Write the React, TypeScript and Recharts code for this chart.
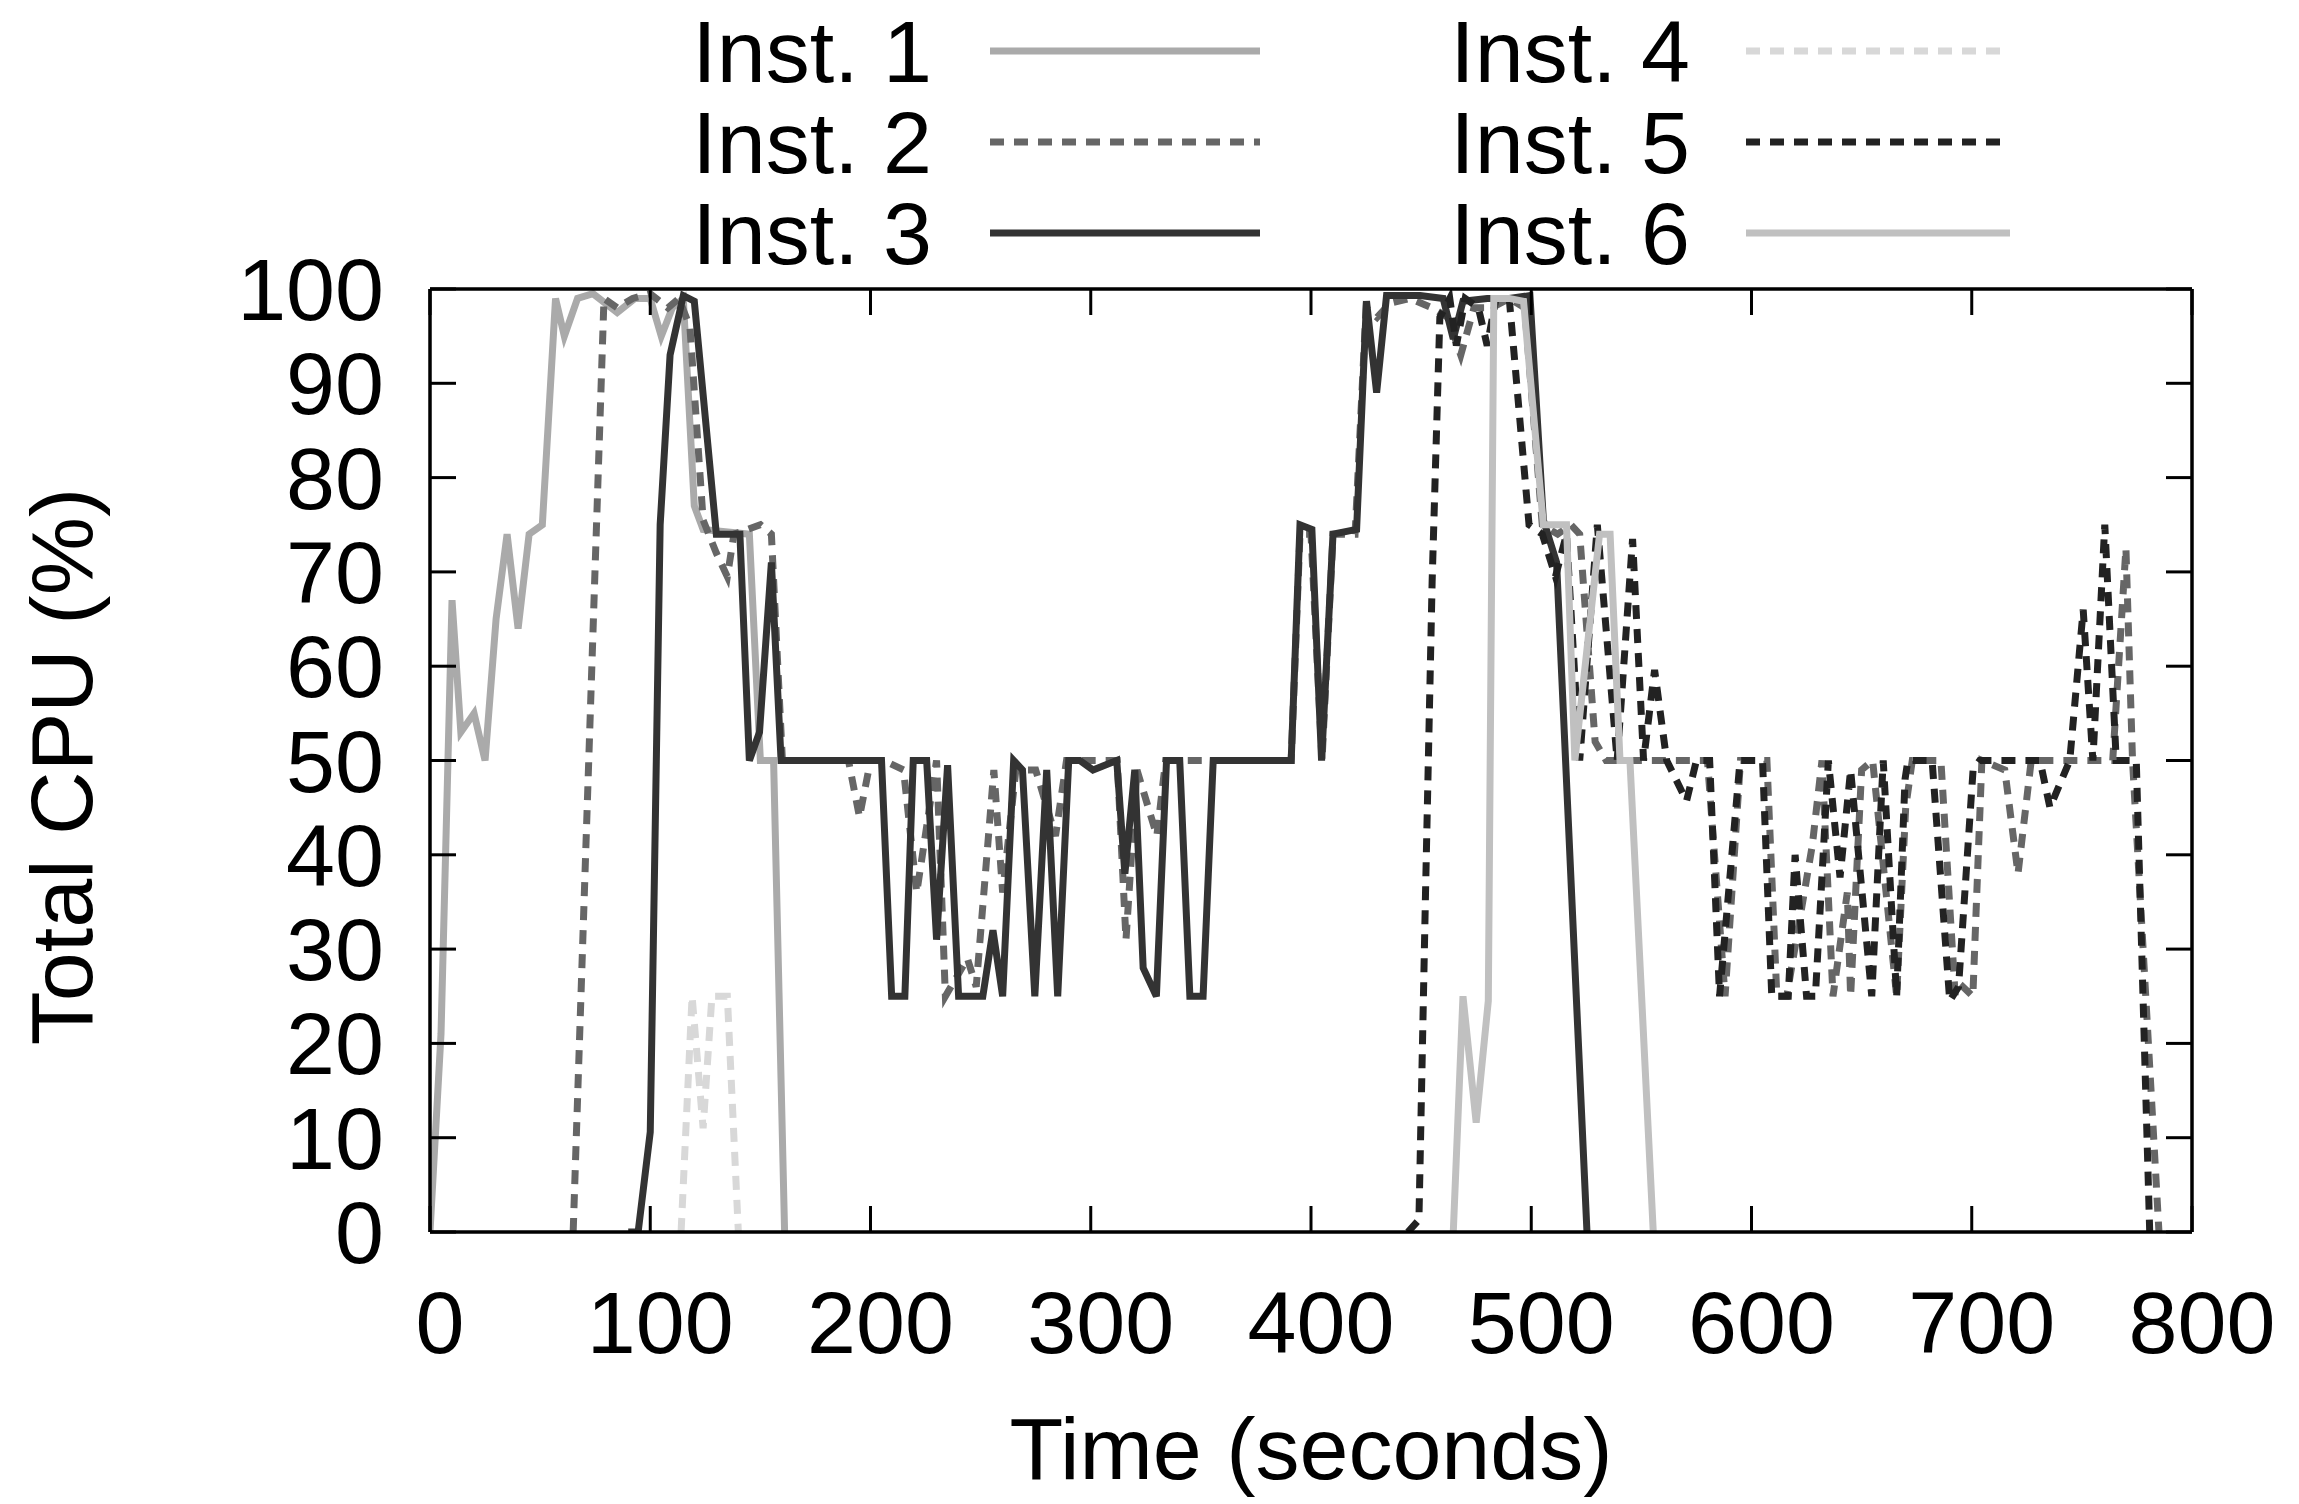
import React from "react";
import { LineChart, Line, XAxis, YAxis, Label } from "recharts";

// CPU traces (time in seconds, total CPU in %)
const inst1Time = [0, 5, 10, 14, 20, 25, 30, 35, 40, 45, 51, 57, 61, 67, 74, 85, 93, 100, 105, 110, 115, 120, 124, 145, 150, 156, 161];
const inst1Cpu = [0, 21, 67, 53, 55, 50, 65, 74, 64, 74, 75, 99, 95, 99, 99.5, 97.5, 99, 99, 95, 98, 99, 77, 74.5, 74, 50, 50, 0];

const inst2Time = [65, 79, 85, 92, 100, 108, 113, 118, 124, 130, 135, 138, 150, 155, 160, 165, 180, 190, 195, 200, 206, 215, 221, 230, 234, 244, 248, 256, 260, 266, 275, 284, 289, 300, 312, 316, 321, 330, 334, 345, 360, 375, 388, 391, 395, 400, 405, 410, 420, 425, 430, 436, 445, 455, 462, 468, 474, 482, 490, 497, 505, 512, 518, 522, 529, 534, 545, 560, 570, 580, 588, 595, 607, 611.5, 616, 627.6, 632, 637, 643.5, 645, 650, 655, 665.9, 670, 673, 686, 692.5, 696, 700.5, 704.6, 715, 721, 727, 748, 764, 770, 773, 785];
const inst2Cpu = [0, 99, 98, 99, 99.5, 98, 99, 96, 75.5, 72, 69.5, 74, 75, 74, 50, 50, 50, 50, 44, 50, 50, 49, 36, 50, 25, 29, 26, 49, 36, 49, 49, 42, 50, 50, 50, 31, 49, 42, 50, 50, 50, 50, 50, 50, 74, 74, 50, 74, 74, 98, 97, 98.5, 99, 98, 97, 93, 98, 98, 99, 98, 75, 74, 75, 74, 52, 50, 50, 50, 50, 50, 25, 50, 50, 25, 25, 41, 50, 25, 36, 25, 49, 50, 25, 45, 50, 50, 25, 26, 25, 50, 49, 38, 50, 50, 50, 72.5, 50, 0];

const inst3Time = [90, 94.5, 100, 104.5, 109, 115, 120, 130, 140.7, 145, 149.6, 155, 159.4, 163, 180, 190, 205, 209.6, 215.6, 219.4, 225.5, 230, 235, 240, 251, 255.6, 260, 265, 269, 274.6, 280, 285, 290, 295, 301, 311.8, 315.5, 320, 323.8, 329.8, 334.4, 340.4, 345, 351, 355.6, 370, 391, 395, 400.4, 404.8, 410, 420.7, 425.2, 429.8, 434.3, 449.5, 460, 464.6, 469, 480, 490, 499.4, 505.5, 511.5, 525.3];
const inst3Cpu = [0, 0, 10.6, 75, 93, 99.3, 98.7, 74, 74, 50, 53, 71, 50, 50, 50, 50, 50, 25, 25, 50, 50, 31, 49.5, 25, 25, 32, 25, 50, 49, 25, 49, 25, 50, 50, 49, 50, 38, 49, 28, 25, 50, 50, 25, 25, 50, 50, 50, 75, 74.5, 50, 74, 74.5, 98.7, 89, 99.3, 99.3, 99, 94.7, 98.7, 99, 99, 99.3, 75.5, 71, 0];

const inst4Time = [114, 119, 124, 128, 135, 140];
const inst4Cpu = [0, 25, 11, 25, 25, 0];

const inst5Time = [444, 449, 452, 455, 458.5, 463, 466, 470, 476, 480, 484, 490, 499, 505, 511, 516, 522, 530, 539, 546, 551, 556, 561.5, 570.5, 575, 581, 585.5, 594.8, 600, 605, 609.2, 616.7, 619.8, 625, 629, 634.9, 640.2, 645, 654.6, 659.8, 665.9, 669.7, 671, 682, 690, 694, 700.6, 703.6, 731, 735.5, 744.5, 750.6, 755, 760.4, 765.6, 774.7, 780.8];
const inst5Cpu = [0, 1.3, 36, 69, 97, 99, 94, 99, 98, 94, 99, 99, 75, 74, 69.5, 74, 50, 75, 50, 73.5, 50, 59.6, 50, 45.7, 50, 50, 25, 50, 50, 50, 25, 25, 40, 25, 25, 50, 37.6, 49, 25, 50, 25, 48, 50, 50, 24.5, 26, 49, 50, 50, 45, 50, 66, 50, 75, 50, 50, 0];

const inst6Time = [464.6, 469, 475, 480.5, 483, 490, 496.5, 505.5, 516, 519.8, 531, 535.8, 540.3, 544.8, 555.4];
const inst6Cpu = [0, 25, 11.6, 24.5, 99, 99, 98.7, 75, 75, 50, 74, 74, 50, 50, 0];

const xTicks = [0, 100, 200, 300, 400, 500, 600, 700, 800];
const yTicks = [0, 10, 20, 30, 40, 50, 60, 70, 80, 90, 100];

const toPoints = (time: number[], cpu: number[]) => time.map((t, i) => ({ t, cpu: cpu[i] }));

const DASH = "14 10";
const series = [
  { name: "Inst. 1", data: toPoints(inst1Time, inst1Cpu), color: "#aaaaaa", dash: undefined },
  { name: "Inst. 2", data: toPoints(inst2Time, inst2Cpu), color: "#666666", dash: DASH },
  { name: "Inst. 3", data: toPoints(inst3Time, inst3Cpu), color: "#333333", dash: undefined },
  { name: "Inst. 4", data: toPoints(inst4Time, inst4Cpu), color: "#d8d8d8", dash: DASH },
  { name: "Inst. 5", data: toPoints(inst5Time, inst5Cpu), color: "#222222", dash: DASH },
  { name: "Inst. 6", data: toPoints(inst6Time, inst6Cpu), color: "#c0c0c0", dash: undefined },
];

const W = 2299;
const H = 1504;
const PLOT_LEFT = 430;
const PLOT_RIGHT = 2192;
const PLOT_TOP = 289;
const PLOT_BOTTOM = 1232;
const TICK_LEN = 26;
const FONT = "'Liberation Sans', Arial, Helvetica, sans-serif";
const FS = 88;
const LW = 7;

const BottomTick = ({ x, y, payload }: any) => (
  <g>
    <line x1={x} y1={y} x2={x} y2={y - TICK_LEN} stroke="#000" strokeWidth={3} />
    <text x={x + 10} y={y + 121} textAnchor="middle" fontSize={FS} fontFamily={FONT} fill="#000">
      {payload.value}
    </text>
  </g>
);

const TopTick = ({ x, y }: any) => (
  <line x1={x} y1={y} x2={x} y2={y + TICK_LEN} stroke="#000" strokeWidth={3} />
);

const LeftTick = ({ x, y, payload }: any) => (
  <g>
    <line x1={x} y1={y} x2={x + TICK_LEN} y2={y} stroke="#000" strokeWidth={3} />
    <text x={x - 46} y={y + 31} textAnchor="end" fontSize={FS} fontFamily={FONT} fill="#000">
      {payload.value}
    </text>
  </g>
);

const RightTick = ({ x, y }: any) => (
  <line x1={x} y1={y} x2={x - TICK_LEN} y2={y} stroke="#000" strokeWidth={3} />
);

const Legend6 = () => {
  const cols = [
    { textRight: 932, lineX1: 990, lineX2: 1260 },
    { textRight: 1690, lineX1: 1746, lineX2: 2010 },
  ];
  const baselines = [82, 173, 264];
  return (
    <svg width={W} height={PLOT_TOP} style={{ position: "absolute", left: 0, top: 0 }}>
      {series.map((s, i) => {
        const c = cols[Math.floor(i / 3)];
        const by = baselines[i % 3];
        return (
          <g key={s.name}>
            <text x={c.textRight} y={by} textAnchor="end" fontSize={FS} fontFamily={FONT} fill="#000">
              {s.name}
            </text>
            <line
              x1={c.lineX1}
              x2={c.lineX2}
              y1={by - 31}
              y2={by - 31}
              stroke={s.color}
              strokeWidth={LW}
              strokeDasharray={s.dash}
            />
          </g>
        );
      })}
    </svg>
  );
};

export default function App() {
  return (
    <div style={{ position: "absolute", left: 0, top: 0, width: W, height: H, background: "#fff" }}>
      <LineChart width={W} height={H} margin={{ top: 0, right: 0, bottom: 0, left: 0 }}>
        <XAxis
          dataKey="t"
          type="number"
          domain={[0, 800]}
          ticks={xTicks}
          allowDataOverflow
          height={H - PLOT_BOTTOM}
          tickSize={0}
          tickMargin={0}
          tickLine={false}
          tick={BottomTick}
          axisLine={{ stroke: "#000", strokeWidth: 3.5 }}
        >
          <Label
            content={({ viewBox }: any) => (
              <text
                x={viewBox.x + viewBox.width / 2}
                y={viewBox.y + 247}
                textAnchor="middle"
                fontSize={FS}
                fontFamily={FONT}
                fill="#000"
              >
                Time (seconds)
              </text>
            )}
          />
        </XAxis>
        <XAxis
          xAxisId="top"
          orientation="top"
          dataKey="t"
          type="number"
          domain={[0, 800]}
          ticks={xTicks}
          allowDataOverflow
          height={PLOT_TOP}
          tickSize={0}
          tickMargin={0}
          tickLine={false}
          tick={TopTick}
          axisLine={{ stroke: "#000", strokeWidth: 3.5 }}
        />
        <YAxis
          type="number"
          domain={[0, 100]}
          ticks={yTicks}
          allowDataOverflow
          width={PLOT_LEFT}
          tickSize={0}
          tickMargin={0}
          tickLine={false}
          tick={LeftTick}
          axisLine={{ stroke: "#000", strokeWidth: 3.5 }}
        >
          <Label
            content={({ viewBox }: any) => {
              const cx = viewBox.x + 92;
              const cy = viewBox.y + viewBox.height / 2 + 6;
              return (
                <text
                  x={cx}
                  y={cy}
                  transform={`rotate(-90, ${cx}, ${cy})`}
                  textAnchor="middle"
                  fontSize={FS}
                  fontFamily={FONT}
                  fill="#000"
                >
                  Total CPU (%)
                </text>
              );
            }}
          />
        </YAxis>
        <YAxis
          yAxisId="right"
          orientation="right"
          type="number"
          domain={[0, 100]}
          ticks={yTicks}
          allowDataOverflow
          width={W - PLOT_RIGHT}
          tickSize={0}
          tickMargin={0}
          tickLine={false}
          tick={RightTick}
          axisLine={{ stroke: "#000", strokeWidth: 3.5 }}
        />
        {series.map((s) => (
          <Line
            key={s.name}
            name={s.name}
            data={s.data}
            dataKey="cpu"
            type="linear"
            stroke={s.color}
            strokeWidth={LW}
            strokeDasharray={s.dash}
            dot={false}
            activeDot={false}
            isAnimationActive={false}
          />
        ))}
      </LineChart>
      <Legend6 />
    </div>
  );
}
